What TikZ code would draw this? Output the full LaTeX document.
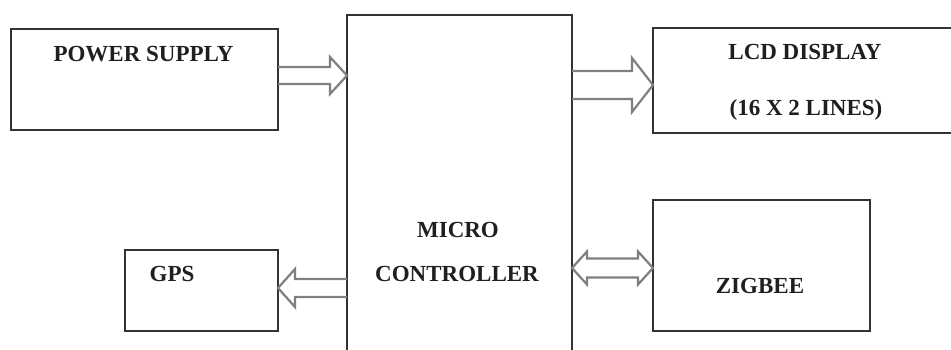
\documentclass[tikz,border=0pt]{standalone}
\usepackage{fontspec}
\setmainfont{Liberation Serif}
\usetikzlibrary{calc}
\tikzset{
  boxline/.style={draw=black!80, line width=1.8pt},
  blk/.style={draw=black!50, line width=2.2pt, line join=miter},
  lbl/.style={font=\fontsize{23}{23}\selectfont\bfseries, text=black!88, anchor=base, inner sep=0pt},
  frame/.style={rectangle, inner sep=0pt, outer sep=0pt}
}
\begin{document}
\begin{tikzpicture}[x=1pt,y=-1pt]
\useasboundingbox[fill=white] (0,0) rectangle (951,350);
% boxes
\node[frame, boxline, minimum width=267pt, minimum height=101pt] (ps) at (144.5,79.5) {};
\node[frame, minimum width=225pt, minimum height=335pt] (mc) at (459.5,182.5) {};
\draw[boxline] (mc.south west) -- (mc.north west) -- (mc.north east) -- (mc.south east);
\node[frame, minimum width=298pt, minimum height=105pt] (lcd) at (802,80.5) {};
\draw[boxline] (lcd.north east) -- (lcd.north west) -- (lcd.south west) -- (lcd.south east);
\node[frame, boxline, minimum width=153pt, minimum height=81pt] (gps) at (201.5,290.5) {};
\node[frame, boxline, minimum width=217pt, minimum height=131pt] (zig) at (761.5,265.5) {};
% labels
\node[lbl] (pst) at (143.5,61.5) {POWER SUPPLY};
\node[lbl] (lcdt1) at (805,59.5) {LCD DISPLAY};
\node[lbl] (lcdt2) at (806,115.5) {(16 X 2 LINES)};
\node[lbl] (gpst) at (172,281.5) {GPS};
\node[lbl] (mct1) at (458,237.5) {MICRO};
\node[lbl] (mct2) at (457,281.5) {CONTROLLER};
\node[lbl] (zigt) at (760,293.5) {ZIGBEE};
% power -> micro
\coordinate (pa) at (ps.east |- 0,75.5);
\coordinate (pb) at (mc.west |- 0,75.5);
\draw[blk] ($(pa)+(0,-8.5)$) -- ($(pb)+(-17,-8.5)$) -- ($(pb)+(-17,-18.5)$) -- (pb)
  -- ($(pb)+(-17,18.5)$) -- ($(pb)+(-17,8.5)$) -- ($(pa)+(0,8.5)$);
% micro -> lcd
\coordinate (la) at (mc.east |- 0,85);
\coordinate (lb) at (lcd.west |- 0,85);
\draw[blk] ($(la)+(0,-14)$) -- ($(lb)+(-21,-14)$) -- ($(lb)+(-21,-27)$) -- (lb)
  -- ($(lb)+(-21,27)$) -- ($(lb)+(-21,14)$) -- ($(la)+(0,14)$);
% micro -> gps
\coordinate (ga) at (mc.west |- 0,288);
\coordinate (gb) at (gps.east |- 0,288);
\draw[blk] ($(ga)+(0,-9)$) -- ($(gb)+(17,-9)$) -- ($(gb)+(17,-19)$) -- (gb)
  -- ($(gb)+(17,19)$) -- ($(gb)+(17,9)$) -- ($(ga)+(0,9)$);
% micro <-> zigbee
\coordinate (za) at (mc.east |- 0,268);
\coordinate (zb) at (zig.west |- 0,268);
\draw[blk] (za) -- ($(za)+(15,-16.5)$) -- ($(za)+(15,-9.5)$) -- ($(zb)+(-15,-9.5)$)
  -- ($(zb)+(-15,-16.5)$) -- (zb) -- ($(zb)+(-15,16.5)$) -- ($(zb)+(-15,9.5)$)
  -- ($(za)+(15,9.5)$) -- ($(za)+(15,16.5)$) -- cycle;
\end{tikzpicture}
\end{document}
